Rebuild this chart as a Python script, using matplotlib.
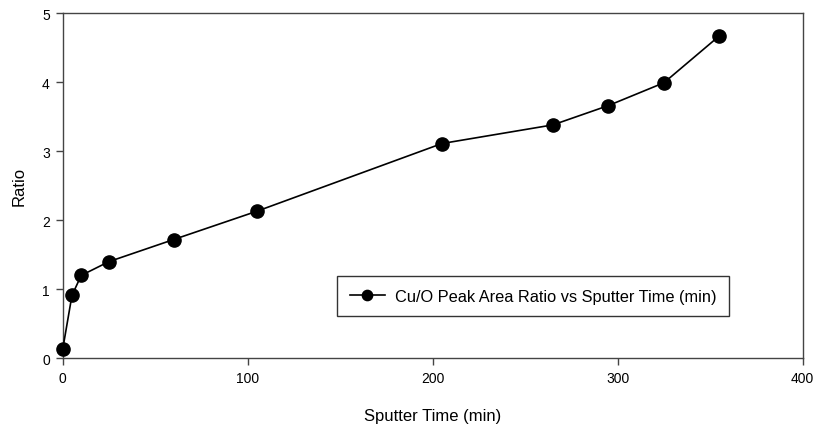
import matplotlib.pyplot as plt

plt.rcParams['font.family'] = ['Liberation Sans', 'DejaVu Sans']

# data
sputter_time = [0, 5, 10, 25, 60, 105, 205, 265, 295, 325, 355]
cu_o_ratio = [0.13, 0.91, 1.20, 1.40, 1.72, 2.13, 3.11, 3.38, 3.66, 3.99, 4.67]

x_ticks = [0, 100, 200, 300, 400]
y_ticks = [0, 1, 2, 3, 4, 5]

W, H = 817, 431
fig = plt.figure(figsize=(W / 100, H / 100), dpi=100)
ax = fig.add_axes([62.7 / W, (H - 359.3) / H, 740 / W, 345.3 / H])

ax.plot(sputter_time, cu_o_ratio, color='black', lw=1.2, marker='o',
        markersize=9.5, markerfacecolor='black', markeredgecolor='black',
        label='Cu/O Peak Area Ratio vs Sputter Time (min)', clip_on=False, zorder=3)

ax.set_xlim(0, 400)
ax.set_ylim(0, 5)
ax.set_xticks(x_ticks)
ax.set_yticks(y_ticks)

for side in ['left', 'bottom', 'top', 'right']:
    ax.spines[side].set_color('#444444')
    ax.spines[side].set_linewidth(1.0)

ax.tick_params(axis='both', direction='out', length=5, width=1.0,
               color='#444444', labelsize=10, pad=4.3)
ax.tick_params(top=False, right=False)

ax.set_xlabel('Sputter Time (min)', fontsize=12, labelpad=16.5)
ax.set_ylabel('Ratio', fontsize=12, labelpad=11)

leg = ax.legend(loc='lower left', bbox_to_anchor=(0.371, 0.1225), borderaxespad=0,
                frameon=True, fancybox=False, fontsize=11.8, handlelength=2.15,
                borderpad=0.75, handletextpad=0.65, markerscale=0.78,
                edgecolor='black')
leg.get_frame().set_linewidth(1.0)

fig.savefig('out.png', dpi=100)
